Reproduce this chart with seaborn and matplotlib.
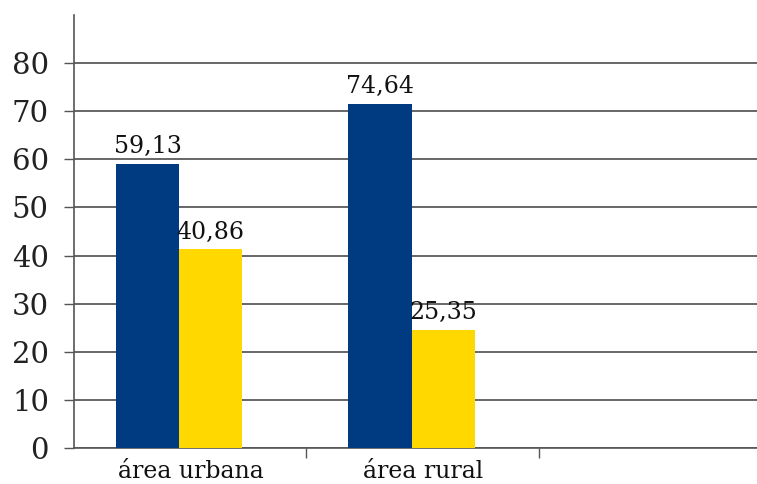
import matplotlib
matplotlib.use("Agg")
import matplotlib.pyplot as plt
import seaborn as sns
import pandas as pd

sns.set_theme(style="white")
plt.rcParams['font.family'] = ['DejaVu Serif', 'DejaVu Sans']

# data (bar heights) and the printed labels
categories = ["área urbana", "área rural", ""]
series = ["Série 1", "Série 2"]
heights_s1 = [59.1, 71.5]
heights_s2 = [41.3, 24.6]
labels_s1 = ["59,13", "74,64"]
labels_s2 = ["40,86", "25,35"]
yticks = [0, 10, 20, 30, 40, 50, 60, 70, 80]

colors = ["#003A80", "#FFD800"]

df = pd.DataFrame({
    "categoria": categories[:2] * 2,
    "serie": [series[0]] * 2 + [series[1]] * 2,
    "valor": heights_s1 + heights_s2,
})

fig = plt.figure(figsize=(7.57, 4.84), dpi=100)
W, H = 757, 484
ax = fig.add_axes([74 / W, 36 / H, (757 - 74) / W, (448 - 15) / H])

sns.barplot(data=df, x="categoria", y="valor", hue="serie", order=categories,
            hue_order=series, palette=colors, width=0.542, saturation=1,
            linewidth=0, legend=False, ax=ax, zorder=3)

for cont, labs in zip(ax.containers, [labels_s1, labels_s2]):
    ax.bar_label(cont, labels=labs, padding=4, fontsize=17, color="#111111")

ax.set_ylim(0, 90)
ax.set_xlim(-0.4516, 2.486)
ax.set_yticks(yticks)
ax.set_yticklabels([str(v) for v in yticks], fontsize=21, color="#222222")
ax.yaxis.grid(True, color="#666666", linewidth=1.4, zorder=0)
ax.set_axisbelow(True)

# category labels at the centres, tick marks at the boundaries
ax.set_xticks([0.05, 1.05])
ax.set_xticklabels(categories[:2], fontsize=17, color="#111111")
ax.set_xticks([0.548, 1.548], minor=True)
ax.tick_params(axis="x", which="major", length=0, pad=9)
ax.tick_params(axis="x", which="minor", length=7, width=1, color="#555555", direction="out", bottom=True)
ax.tick_params(axis="y", length=7, width=1, color="#555555", direction="out", left=True, pad=11)

for s in ["top", "right"]:
    ax.spines[s].set_visible(False)
for s in ["left", "bottom"]:
    ax.spines[s].set_color("#555555")
    ax.spines[s].set_linewidth(1.2)

ax.set_xlabel("")
ax.set_ylabel("")

fig.savefig("out.png", dpi=100)
